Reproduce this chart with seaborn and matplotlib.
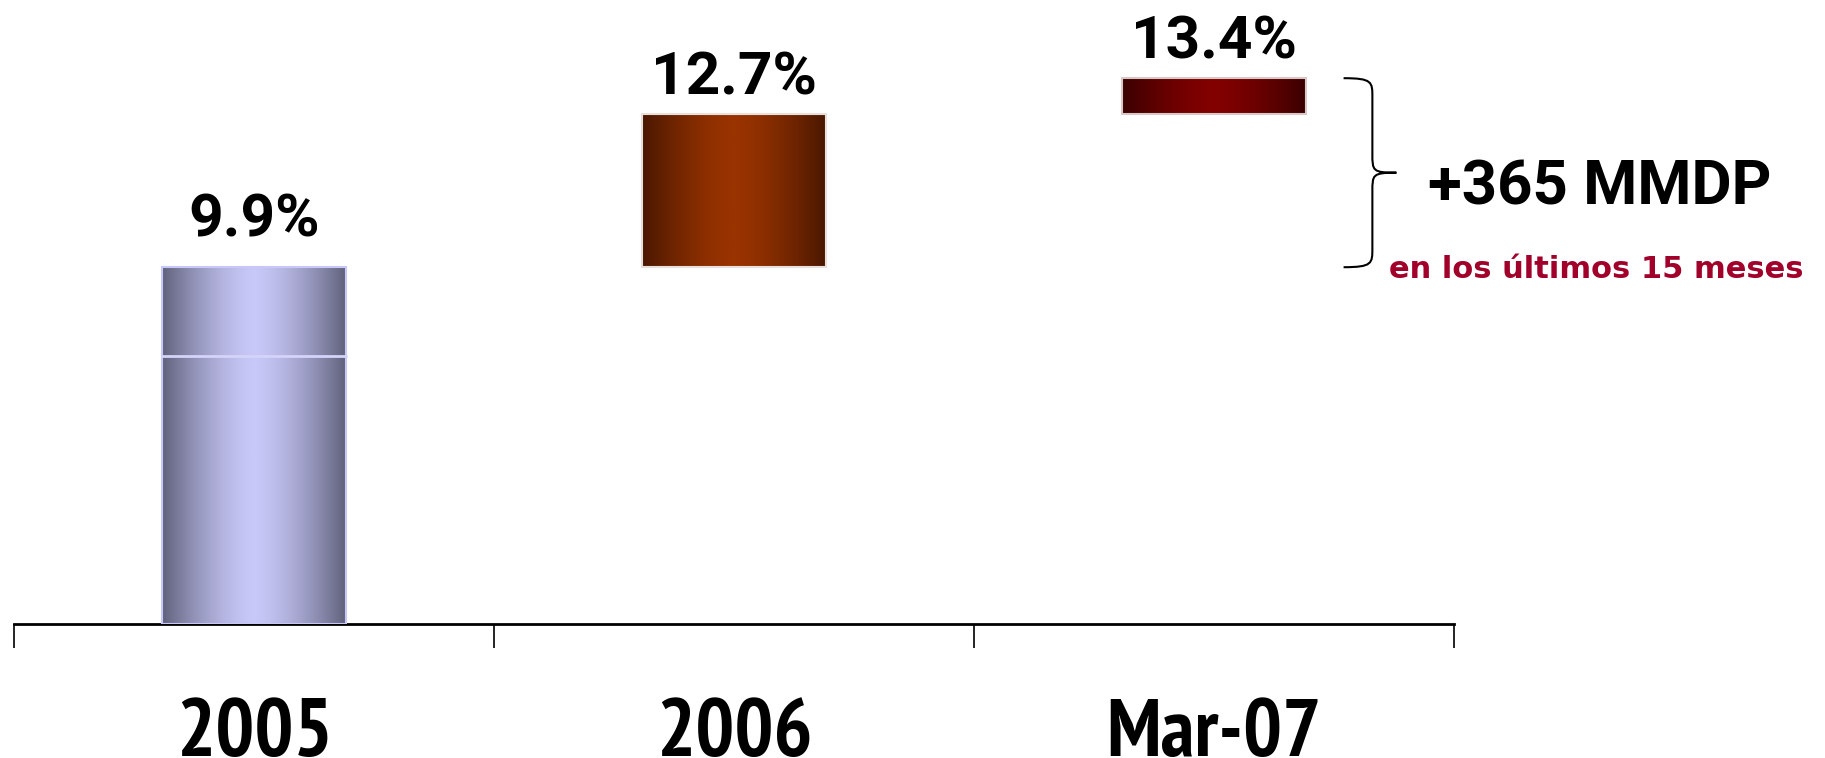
import numpy as np
import pandas as pd
import matplotlib
matplotlib.use("Agg")
import matplotlib.pyplot as plt
import matplotlib.transforms as mtrans
import seaborn as sns
from matplotlib.colors import LinearSegmentedColormap
from matplotlib.path import Path
from matplotlib.patches import PathPatch

categories = ["2005", "2006", "Mar-07"]
increments = [689, 295, 70]
pct_labels = ["9.9%", "12.7%", "13.4%"]
split_2005 = 518
note_main = "+365 MMDP"
note_sub = "en los últimos 15 meses"

bar_colors = [("#60627c", "#c8c8f8"), ("#4a1800", "#993300"), ("#3a0000", "#820000")]
edge_colors = ["#c8c8f8", "#e8e0dc", "#d8c8c8"]

F_TICK = ['PT Sans Narrow', 'DejaVu Sans']
F_LAB = ['Roboto', 'DejaVu Sans']
F_SUB = ['DejaVu Sans']

sns.set_theme(style="white")
plt.rcParams['font.family'] = F_LAB
plt.rcParams['font.weight'] = 'bold'

fig = plt.figure(figsize=(18.25, 7.58), dpi=100)
ax = fig.add_axes([0.0077, 0.1768, 0.789, 0.8232])

df = pd.DataFrame({"cat": categories, "val": increments})
sns.barplot(data=df, x="cat", y="val", hue="cat", palette=["#ffffff"] * 3,
            width=0.383, legend=False, ax=ax, zorder=2)

starts = np.concatenate([[0], np.cumsum(increments)[:-1]])
xs = np.linspace(0, 1, 256)
profile = 1 - np.abs(xs - 0.5) * 2
profile = 1 - (1 - profile) ** 1.5
for i, patch in enumerate(ax.patches):
    patch.set_y(starts[i])
    patch.set_edgecolor(edge_colors[i])
    patch.set_linewidth(1.5)
    cmap = LinearSegmentedColormap.from_list(f"g{i}", list(bar_colors[i]))
    x0, w = patch.get_x(), patch.get_width()
    y0, h = patch.get_y(), patch.get_height()
    im = ax.imshow(profile[np.newaxis, :], cmap=cmap, aspect="auto",
                   extent=[x0, x0 + w, y0, y0 + h], zorder=2.5, vmin=0, vmax=1)
    im.set_clip_path(patch)
    patch.set_facecolor("none")
    patch.set_zorder(3)
    off = 0.31 if i == 0 else 0.2
    ax.text(x0 + w / 2, y0 + h, pct_labels[i], ha="center", va="baseline",
            fontsize=43.5, fontweight="bold", color="black", family=F_LAB,
            transform=ax.transData + mtrans.ScaledTranslation(0, off, fig.dpi_scale_trans))

p0 = ax.patches[0]
ax.plot([p0.get_x(), p0.get_x() + p0.get_width()], [split_2005, split_2005],
        color="#d4d4fa", lw=2, zorder=4)

ax.set_xlim(-0.5, 2.5)
ax.set_ylim(0, 1205)
ax.set_yticks([])
ax.set_xlabel("")
ax.set_ylabel("")
for s in ["top", "left", "right"]:
    ax.spines[s].set_visible(False)
ax.spines["bottom"].set_linewidth(2)
ax.spines["bottom"].set_color("black")

ax.set_xticks([-0.5, 0.5, 1.5, 2.5])
ax.set_xticklabels([])
ax.tick_params(axis="x", which="major", direction="out", length=17, width=1.2,
               color="black", bottom=True)
ax.set_xticks([0, 1, 2], minor=True)
ax.set_xticklabels(categories, minor=True)
ax.tick_params(axis="x", which="minor", length=0, pad=54, labelsize=59, labelcolor="black")
for t in ax.get_xticklabels(minor=True):
    t.set_family(F_TICK)
    t.set_fontweight("bold")

# llave que abarca el incremento 2005 -> Mar-07
top = sum(increments)
bot = increments[0]
mid = (top + bot) / 2
xl, xv, xt = 2.27, 2.33, 2.38
r = (top - bot) * 0.1
verts = [(xl, top), (xv, top), (xv, top - r * 0.2), (xv, top - r),
         (xv, mid + r), (xv, mid + r * 0.1), (xv, mid), (xt, mid),
         (xv, mid), (xv, mid - r * 0.1), (xv, mid - r),
         (xv, bot + r), (xv, bot + r * 0.2), (xv, bot), (xl, bot)]
codes = [Path.MOVETO, Path.CURVE4, Path.CURVE4, Path.CURVE4,
         Path.LINETO, Path.CURVE4, Path.CURVE4, Path.CURVE4,
         Path.CURVE4, Path.CURVE4, Path.CURVE4,
         Path.LINETO, Path.CURVE4, Path.CURVE4, Path.CURVE4]
ax.add_patch(PathPatch(Path(verts, codes), fill=False, lw=1.5, color="black",
                       clip_on=False, zorder=5))

ax.text(2.446, mid, note_main, ha="left", va="baseline", fontsize=44.5,
        fontweight="bold", color="black", clip_on=False, family=F_LAB,
        transform=ax.transData + mtrans.ScaledTranslation(0, -0.32, fig.dpi_scale_trans))
ax.text(2.365, bot, note_sub, ha="left", va="baseline", fontsize=22,
        fontweight="bold", color="#a0002a", clip_on=False, family=F_SUB,
        transform=ax.transData + mtrans.ScaledTranslation(0, -0.11, fig.dpi_scale_trans))

fig.savefig("out.png", dpi=100)
